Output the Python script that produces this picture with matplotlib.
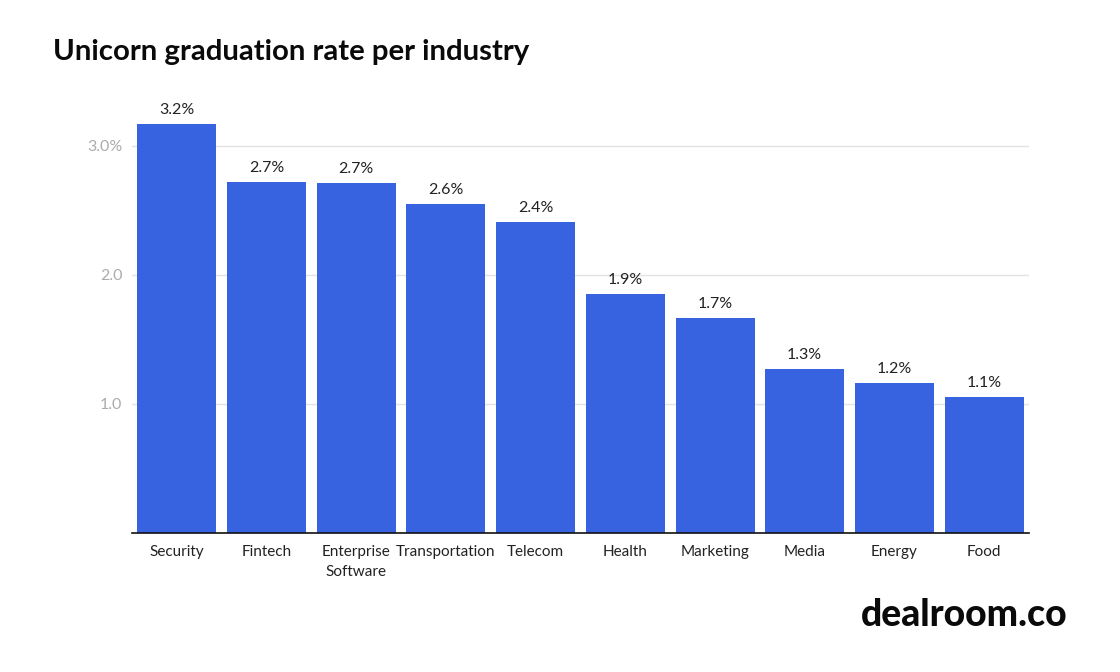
#!/usr/bin/env python3
import matplotlib
matplotlib.use("Agg")
import matplotlib.pyplot as plt

# data
industries = ["Security", "Fintech", "Enterprise\nSoftware", "Transportation", "Telecom",
              "Health", "Marketing", "Media", "Energy", "Food"]
rates = [3.17, 2.72, 2.71, 2.55, 2.41, 1.85, 1.66, 1.27, 1.16, 1.05]
bar_labels = ["3.2%", "2.7%", "2.7%", "2.6%", "2.4%", "1.9%", "1.7%", "1.3%", "1.2%", "1.1%"]
y_ticks = [1.0, 2.0, 3.0]
y_tick_labels = ["1.0", "2.0", "3.0%"]

plt.rcParams["font.family"] = ["Lato", "DejaVu Sans"]

W, H = 1120, 672
fig = plt.figure(figsize=(W / 100, H / 100), dpi=100, facecolor="white")
# axes box in pixels: x 132-1029, baseline at y=532.5, top at y=100.5
ax = fig.add_axes([132 / W, 1 - 532.5 / H, (1029 - 132) / W, 432 / H])

x = list(range(len(industries)))
ax.bar(x, rates, width=0.88, color="#3763E0", zorder=3)
ax.set_xlim(-0.5, 9.5)
ax.set_ylim(0, 432 / 129)

ax.set_yticks(y_ticks)
ax.set_yticklabels(y_tick_labels, color="#ABABAB", fontsize=11.5)
ax.set_xticks(x)
ax.set_xticklabels(industries, color="#222222", fontsize=11, linespacing=1.55)
ax.tick_params(axis="y", length=0, pad=7)
ax.tick_params(axis="x", length=0, pad=9)
ax.grid(axis="y", color="#E3E3E3", linewidth=1, zorder=0)

for s in ["top", "left", "right"]:
    ax.spines[s].set_visible(False)
ax.spines["bottom"].set_color("#111111")
ax.spines["bottom"].set_linewidth(1.2)
ax.spines["bottom"].set_zorder(4)

for xi, v, lab in zip(x, rates, bar_labels):
    ax.annotate(lab, (xi, v), xytext=(0, 5), textcoords="offset points",
                ha="center", va="bottom", fontsize=11.5, color="#222222")

fig.text(53 / W, 1 - 52 / H, "Unicorn graduation rate per industry", fontsize=21.2,
         fontweight="bold", color="#0A0A0A", va="center", ha="left")
fig.text(1068 / W, 1 - 615 / H, "dealroom.co", fontsize=26.8, fontweight="black",
         color="#0A0A0A", va="center", ha="right")

fig.savefig("out.png", dpi=100)
